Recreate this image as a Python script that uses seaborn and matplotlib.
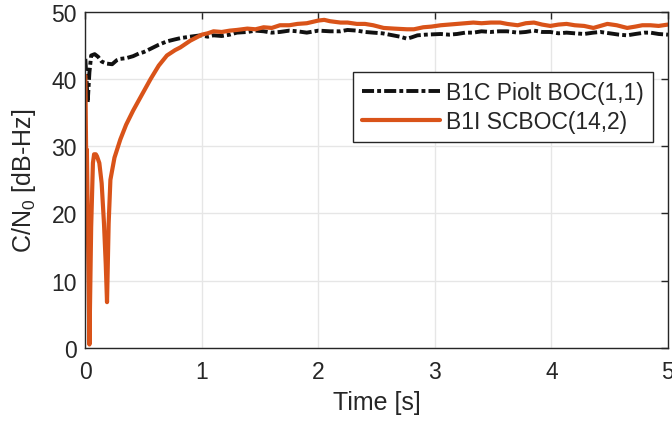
import pandas as pd
import matplotlib
matplotlib.use("Agg")
import matplotlib.pyplot as plt
import seaborn as sns

# ── Data ─────────────────────────────────────────────────────────────────────
t_b1c = [0.0, 0.01, 0.02, 0.035, 0.05, 0.08, 0.11, 0.14, 0.18, 0.23, 0.27,
         0.30, 0.35, 0.41, 0.46, 0.50, 0.56, 0.63, 0.70, 0.77, 0.82, 0.90,
         0.99, 1.05, 1.10, 1.17, 1.24, 1.30, 1.39, 1.46, 1.53, 1.60, 1.67,
         1.75, 1.82, 1.90, 2.00, 2.10, 2.19, 2.25, 2.33, 2.40, 2.47, 2.55,
         2.64, 2.70, 2.76, 2.80, 2.85, 2.92, 3.05, 3.12, 3.19, 3.26, 3.33,
         3.40, 3.48, 3.55, 3.62, 3.71, 3.78, 3.85, 3.92, 3.99, 4.06, 4.13,
         4.20, 4.28, 4.36, 4.42, 4.50, 4.58, 4.65, 4.72, 4.80, 4.85, 4.92,
         5.00]
cn0_b1c = [43.0, 40.0, 36.5, 41.0, 43.5, 43.7, 43.3, 42.6, 42.3, 42.2, 42.8,
           43.0, 43.1, 43.4, 43.8, 44.0, 44.5, 45.1, 45.6, 45.9, 46.1, 46.3,
           46.5, 46.3, 46.5, 46.4, 46.6, 46.9, 47.0, 47.2, 47.1, 46.9, 47.0,
           47.2, 47.1, 46.9, 47.2, 47.1, 47.1, 47.3, 47.2, 47.0, 46.9, 46.8,
           46.5, 46.3, 46.0, 46.2, 46.5, 46.6, 46.7, 46.6, 46.7, 46.9, 46.9,
           47.1, 47.0, 47.1, 47.1, 46.9, 47.0, 47.2, 47.0, 47.0, 46.8, 46.9,
           46.8, 46.7, 46.9, 47.0, 46.8, 46.6, 46.5, 46.7, 46.9, 46.9, 46.7,
           46.6]

t_b1i = [0.0, 0.008, 0.013, 0.035, 0.05, 0.065, 0.075, 0.09, 0.10, 0.12,
         0.14, 0.16, 0.175, 0.186, 0.20, 0.215, 0.25, 0.30, 0.35, 0.41, 0.48,
         0.56, 0.63, 0.70, 0.77, 0.815, 0.90, 1.00, 1.05, 1.10, 1.17, 1.24,
         1.30, 1.39, 1.46, 1.53, 1.60, 1.67, 1.75, 1.82, 1.90, 1.95, 2.00,
         2.05, 2.10, 2.19, 2.25, 2.33, 2.40, 2.47, 2.56, 2.65, 2.76, 2.82,
         2.90, 2.97, 3.05, 3.12, 3.19, 3.26, 3.33, 3.40, 3.48, 3.56, 3.62,
         3.71, 3.78, 3.85, 3.92, 3.99, 4.06, 4.13, 4.20, 4.28, 4.36, 4.42,
         4.48, 4.56, 4.65, 4.72, 4.78, 4.85, 4.92, 5.00]
cn0_b1i = [40.5, 27.0, 29.5, 0.5, 18.0, 27.5, 28.8, 28.8, 28.5, 27.5,
           24.5, 18.5, 12.5, 6.8, 18.5, 25.0, 28.3, 31.0, 33.2, 35.3, 37.5,
           40.0, 42.0, 43.5, 44.3, 44.7, 45.7, 46.6, 46.8, 47.1, 47.0, 47.2,
           47.3, 47.5, 47.4, 47.7, 47.6, 48.0, 48.0, 48.2, 48.3, 48.5, 48.7,
           48.8, 48.6, 48.4, 48.4, 48.2, 48.2, 48.0, 47.6, 47.5, 47.4, 47.4,
           47.7, 47.8, 48.0, 48.1, 48.2, 48.3, 48.4, 48.3, 48.4, 48.4, 48.2,
           48.0, 48.3, 48.4, 48.1, 47.9, 48.1, 48.2, 48.0, 47.9, 47.6, 47.9,
           48.2, 48.0, 47.6, 47.8, 48.0, 48.0, 47.9, 48.1]

label_b1c = "B1C Piolt BOC(1,1)"
label_b1i = "B1I SCBOC(14,2)"

# ── Style (MATLAB-like look) ─────────────────────────────────────────────────
sns.set_theme(style="whitegrid")
plt.rcParams.update({
    "font.family":      ["Liberation Sans", "DejaVu Sans"],
    "axes.edgecolor":   "#262626",
    "axes.linewidth":   1.0,
    "grid.color":       "#e6e6e6",
    "grid.linewidth":   1.0,
    "xtick.direction":  "in",
    "ytick.direction":  "in",
    "xtick.top":        True,
    "ytick.right":      True,
    "xtick.color":      "#262626",
    "ytick.color":      "#262626",
    "xtick.major.size": 5,
    "ytick.major.size": 5,
})

fig = plt.figure(figsize=(6.72, 4.27), dpi=100)
ax = fig.add_axes([0.127, 0.183, 0.867, 0.787])

sns.lineplot(x=t_b1c, y=cn0_b1c, ax=ax, color="#111111",
             linestyle=(0, (3.1, 0.8, 1.0, 0.8)),
             linewidth=2.8, estimator=None, sort=False, label=label_b1c)
sns.lineplot(x=t_b1i, y=cn0_b1i, ax=ax, color="#D95319", linestyle="-",
             linewidth=3.0, estimator=None, sort=False, label=label_b1i)

ax.set_xlim(0, 5)
ax.set_ylim(0, 50)
ax.set_xticks([0, 1, 2, 3, 4, 5])
ax.set_yticks([0, 10, 20, 30, 40, 50])
ax.tick_params(axis="x", labelsize=16.5, pad=9, width=1.0, labelcolor="#262626")
ax.tick_params(axis="y", labelsize=16.5, pad=6, width=1.0, labelcolor="#262626")
ax.set_xlabel("Time [s]", fontsize=18, color="#262626", labelpad=5)
ax.set_ylabel(r"C/N$_{\mathregular{0}}$ [dB-Hz]", fontsize=18,
              color="#262626", labelpad=10)
for s in ax.spines.values():
    s.set_visible(True)
    s.set_color("#262626")

leg = ax.legend(loc="upper right", bbox_to_anchor=(0.974, 0.821), fontsize=16.5,
                frameon=True, fancybox=False, handlelength=3.4,
                borderpad=0.4, labelspacing=0.25, handletextpad=0.25,
                borderaxespad=0)
leg.get_frame().set_edgecolor("#262626")
leg.get_frame().set_linewidth(1.0)
leg.get_frame().set_alpha(1.0)

fig.savefig("out.png", dpi=100)
